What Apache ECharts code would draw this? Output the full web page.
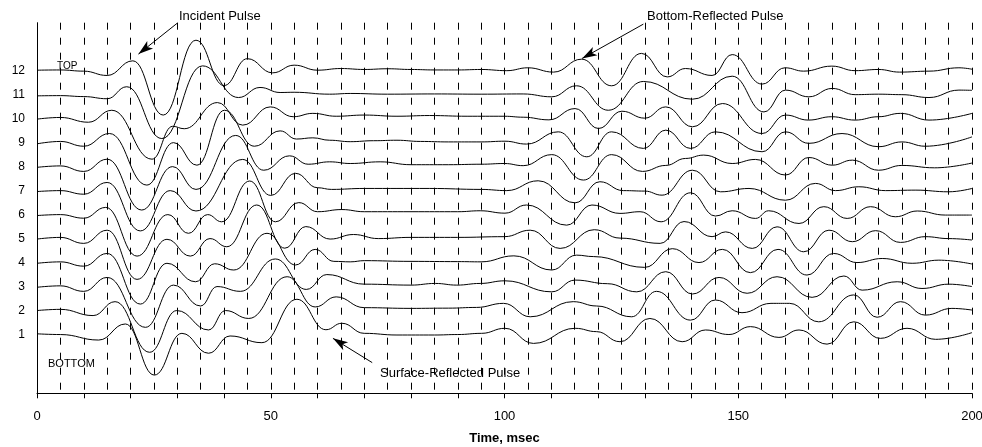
<!DOCTYPE html>
<html><head><meta charset="utf-8">
<script src="https://cdn.jsdelivr.net/npm/echarts@6/dist/echarts.min.js"></script>
<style>html,body{margin:0;padding:0;background:#fff}#c{width:982px;height:447px}</style>
</head><body><div id="c"></div>
<script>
// [time msec, amplitude relative to trace baseline]
const trace1 = [[0,0.03],[5,0],[13.2,-0.23],[18.9,0.44],[25.1,-1.69],[31,0.05],[36.7,-0.78],[41.3,-0.06],[48.1,-0.34],[55.6,1.47],[61.8,0.2],[65.2,0.47],[70,0.05],[77,-0.02],[85,-0.02],[90,0],[95.1,0.05],[100.1,0.26],[106.2,-0.37],[115.1,0.26],[119.7,0.12],[124.7,-0.3],[131.1,0.67],[138,-0.3],[143,0.19],[148,0],[152.6,0.33],[158.7,-0.12],[163,0.19],[169,-0.4],[174.7,0.53],[180.4,-0.16],[186.1,0.26],[192.2,-0.2],[200,0.08]];
const trace2 = [[0,0],[5,0.05],[12,-0.21],[16.7,0.37],[24.1,-1.74],[29.9,0.0],[36.7,-0.81],[40.3,0.0],[45.3,-0.33],[53.5,1.41],[59.5,0.15],[64,0.57],[70,0.12],[80,0.09],[88,0.1],[94,0.13],[99.8,0.3],[105.5,-0.26],[114.7,0.37],[119.7,0.19],[127.2,-0.26],[132.5,0.8],[139.8,-0.4],[145.1,0.44],[150.8,-0.09],[157,0.3],[161,0.3],[167.2,-0.47],[174.7,0.65],[179.7,-0.28],[184.7,0.37],[190,-0.19],[195.7,0.09],[200,0.02]];
const trace3 = [[0,-0.03],[5,0.03],[10,-0.2],[15,0.38],[23.2,-1.7],[29.2,0.06],[35,-0.81],[38.5,0.0],[43.5,-0.2],[51,1.15],[57.6,-0.12],[62,0.5],[70,0.1],[80,0.06],[85.2,0.13],[89.8,0.06],[94.8,0.13],[100.1,0.24],[110.1,-0.22],[115.1,0.27],[122,0.12],[128.3,-0.22],[134.5,0.62],[140.2,-0.31],[145.9,0.38],[151.9,-0.28],[158.3,0.41],[165.8,-0.45],[172.6,0.44],[176.5,-0.15],[184,0.2],[189.3,-0.08],[195,0.1],[200,0]];
const trace4 = [[0,-0.03],[5,0.03],[10,-0.15],[15,0.38],[22.1,-1.73],[27.8,-0.03],[33.9,-0.8],[38,-0.05],[42.1,-0.31],[49.2,1.22],[55.3,-0.1],[59.5,0.55],[63.5,0.05],[67,0.03],[70,0.08],[80,0.05],[90,0.04],[95,0.03],[102,0.28],[110.1,-0.31],[115.4,0.31],[119,0.25],[130,-0.2],[135.9,0.58],[141.6,0],[146.6,0.55],[152.6,-0.42],[158.5,0.55],[164.7,-0.52],[170.4,0.38],[175.4,0],[180.8,0.17],[187.2,-0.03],[192.9,0.1],[200,-0.06]];
const trace5 = [[0,-0.02],[5,0.05],[10,-0.2],[15,0.35],[21.4,-1.7],[27.8,-0.03],[32.8,-0.73],[37,0.0],[40.6,-0.34],[47,1.4],[53,-0.4],[57.5,0.5],[62.7,-0.02],[67.7,0.17],[73,0],[80,0.05],[90,0.05],[100,0.08],[105.5,0.35],[111.9,-0.41],[119.2,0.37],[124.7,0.02],[133.3,-0.2],[138.4,0.71],[144.4,0.08],[147.3,0.28],[153,-0.41],[158.3,0.49],[164,-0.55],[169.4,0.35],[174.4,-0.13],[179.4,0.33],[184.7,-0.16],[190,0.08],[195,0.0],[200,-0.06]];
const trace6 = [[0,-0.04],[5,0.0],[10,-0.15],[14.7,0.3],[21.4,-1.73],[28,0.0],[32.4,-0.78],[36.5,0.0],[39.5,-0.3],[45.5,1.4],[51,-0.3],[56,0.5],[60,0.12],[65.2,0.21],[70,0.12],[80,0.12],[90,0.12],[94.8,0.16],[100.1,0.06],[104.7,0.4],[113.3,-0.44],[118.7,0.4],[124.7,0.05],[129,0.12],[133.5,-0.3],[139.8,0.91],[145.1,-0.06],[148.7,0.16],[153.7,-0.16],[156.5,0.16],[163,-0.37],[168.3,0.33],[173.3,-0.16],[178.3,0.33],[183.6,-0.09],[188.3,0.15],[194.3,-0.02],[200,-0.02]];
const trace7 = [[0,-0.04],[5,0.0],[10,-0.15],[15,0.34],[22.1,-1.68],[28.5,0.0],[34,-0.85],[44,1.3],[50,-0.2],[55.3,0.72],[60,0.12],[63,0.05],[70,0.09],[84,0.09],[95,0.05],[100.5,0],[107.2,0.41],[115.1,-0.51],[120.4,0.37],[125.4,0],[130,-0.02],[133.7,-0.19],[140.2,0.85],[146.2,-0.05],[152.3,0.09],[160.1,-0.4],[166.5,0.3],[170.8,0],[175.8,0.16],[181.5,0],[188,0.02],[195,-0.05],[200,0.09]];
const trace8 = [[0,-0.03],[5,0.03],[10,-0.2],[15,0.31],[22.4,-1.81],[29,0.0],[34,-0.95],[42.5,1.3],[48.5,-0.15],[54,0.45],[58,0.1],[62.6,0.2],[67,0.13],[73.4,0.2],[80,0.08],[88,0.08],[95,0.1],[100,0.13],[104,0.04],[110.1,0.5],[116.9,-0.56],[122.9,0.5],[129.5,-0.2],[134.5,0.05],[138.7,0.34],[142.6,0.48],[148.7,0.13],[153.7,0.3],[160.1,-0.35],[165.1,0.38],[170.1,0.06],[174.4,0.27],[180,-0.15],[185,0.05],[192,-0.05],[200,0.15]];
const trace9 = [[0,-0.05],[5,0.05],[10,-0.15],[15.5,0.38],[23.5,-1.77],[29.2,0.0],[34.2,-0.94],[40.1,1.35],[46.5,-0.15],[52,0.49],[55.5,0.15],[59,0.2],[62.6,0.1],[67,0.04],[72,0.08],[77,0.1],[82,0.05],[88,0.03],[95,0.03],[100.1,0.06],[104.7,-0.06],[111.5,0.45],[117.6,-0.59],[122.9,0.45],[129.7,-0.24],[134.5,0.52],[139.8,-0.24],[145.1,0.45],[155.1,-0.38],[160.1,0.45],[165.1,-0.03],[172.2,0.38],[180,-0.17],[185,0.03],[190,-0.15],[200,0.24]];
const trace10 = [[0,-0.02],[5,0.05],[11,-0.15],[16,0.35],[24.6,-1.69],[29,-0.32],[31.5,-0.42],[38.6,0.67],[44,-0.27],[49.9,0.49],[54.8,0.08],[59,0.22],[64,0.1],[70,0.15],[77,0.1],[84,0.13],[92,0.1],[100,0.1],[104,0.06],[109.5,-0.05],[115.1,0.42],[120.1,-0.41],[125.1,0.31],[130,0.02],[134.5,0.49],[140.2,-0.34],[146.6,0.63],[155.1,-0.62],[160.1,0.15],[165,-0.06],[170,0.08],[175,-0.06],[180,0.08],[184.7,0.22],[190.8,-0.06],[200,0.22]];
const trace11 = [[0,-0.05],[5,-0.04],[10,-0.08],[15,-0.17],[19.2,0.33],[26.7,-1.83],[35.4,1.2],[43.1,-0.12],[47.7,0.3],[52,0.09],[55,0.1],[62.6,0.02],[67,0.05],[75,0.02],[85,0.03],[95,0.02],[104,0.03],[110.1,-0.09],[115.4,0.37],[122.2,-0.65],[129.7,0.55],[140.2,-0.19],[148.7,0.77],[155.5,-0.72],[160.1,0.19],[165.1,-0.09],[170.1,0.26],[175,0.0],[180,0.02],[185,0],[190.8,-0.12],[197.2,0.19],[200,0.18]];
const trace12 = [[0,0.02],[5,0.03],[10,-0.02],[15,-0.2],[20.5,0.41],[27,-1.85],[34,1.27],[40,-0.62],[45,0.5],[50.4,-0.09],[55,0.23],[60,0.02],[65,0.09],[70,0.05],[75,0.08],[80,0.05],[85,0.03],[90,0.03],[95,0.05],[100.5,0],[105,0.12],[110.5,-0.06],[116.5,0.48],[122.9,-0.63],[129.3,0.72],[134.8,-0.26],[138.7,0.09],[144.4,-0.2],[148.7,0.67],[155.1,-0.56],[160,0.12],[164,-0.02],[170,0.19],[175,0],[180,0.05],[184.5,-0.06],[190.8,-0.02],[197.2,0.12],[200,0.06]];

const traces = [trace1,trace2,trace3,trace4,trace5,trace6,trace7,trace8,trace9,trace10,trace11,trace12];
const traceLabels = [1,2,3,4,5,6,7,8,9,10,11,12];
const xLabelValues = [0,50,100,150,200];
const xTickValues = [0,10,20,30,40,50,60,70,80,90,100,110,120,130,140,150,160,170,180,190,200];
// arrows: [from, to] in data coordinates (time, trace level)
const arrowFrom = [[30.0,13.98],[129.7,13.94],[71.7,-0.17]];
const arrowTo   = [[21.7,12.69],[116.6,12.51],[63.3,0.84]];

const FONT = '"Liberation Sans", Arial, Helvetica, sans-serif';
const chart = echarts.init(document.getElementById('c'), null, {renderer:'canvas'});

const series = traces.map((tr, i) => ({
  type: 'line',
  xAxisIndex: 0,
  data: tr.map(p => [p[0], p[1] + traceLabels[i]]),
  showSymbol: false, symbol: 'none',
  smooth: 0.45, smoothMonotone: 'x',
  lineStyle: {color: '#000', width: 1},
  itemStyle: {color: '#000'},
  silent: true, animation: false, z: 3
}));
series[11].markLine = {
  silent: true, animation: false,
  symbol: ['none', 'arrow'], symbolSize: [7, 15],
  label: {show: false},
  lineStyle: {color: '#000', width: 1, type: 'solid'},
  itemStyle: {color: '#000'},
  emphasis: {disabled: true},
  data: arrowFrom.map((f, i) => [{coord: f}, {coord: arrowTo[i]}])
};

const annTexts = [
  {text: 'Incident Pulse', x: 179, y: 16, size: 13},
  {text: 'Bottom-Reflected Pulse', x: 647, y: 16, size: 13},
  {text: 'Surface-Reflected Pulse', x: 380, y: 373, size: 13},
  {text: 'TOP', x: 57, y: 66, size: 10},
  {text: 'BOTTOM', x: 48, y: 364, size: 11}
];

chart.setOption({
  backgroundColor: '#fff',
  animation: false,
  grid: {left: 37, right: 10, top: 22.7, bottom: 53.7, containLabel: false, outerBoundsMode: 'none'},
  xAxis: [{
    type: 'value', min: 0, max: 200, interval: 10,
    name: 'Time, msec', nameLocation: 'middle', nameGap: 39,
    nameTextStyle: {color: '#000', fontSize: 13, fontWeight: 'bold', fontFamily: FONT},
    axisLine: {show: true, onZero: false, lineStyle: {color: '#000', width: 1}},
    axisTick: {show: true, inside: false, length: 5, customValues: xTickValues, lineStyle: {color: '#000'}},
    axisLabel: {show: true, customValues: xLabelValues, margin: 17, color: '#000', fontSize: 13, fontFamily: FONT},
    splitLine: {show: false}
  }, {
    type: 'value', min: 0, max: 200, interval: 10, position: 'bottom',
    axisLine: {show: false},
    axisTick: {show: true, inside: true, length: 4, customValues: xTickValues, lineStyle: {color: '#000'}},
    axisLabel: {show: false}, splitLine: {show: false}
  }, {
    type: 'value', min: 0, max: 200, interval: 5, position: 'bottom',
    axisLine: {show: false}, axisTick: {show: false}, axisLabel: {show: false},
    splitLine: {show: true, showMinLine: false, lineStyle: {color: '#000', width: 1, type: [7, 8]}}
  }],
  yAxis: {
    type: 'value', min: -1.45, max: 14,
    axisLine: {show: true, onZero: false, lineStyle: {color: '#000', width: 1}},
    axisTick: {show: false},
    axisLabel: {show: true, customValues: traceLabels, margin: 12, color: '#000', fontSize: 12, fontFamily: FONT, padding: [6, 0, 0, 0]},
    splitLine: {show: false}
  },
  series: series,
  graphic: annTexts.map(a => ({
    type: 'text', silent: true, z: 10,
    style: {x: a.x, y: a.y, text: a.text, fill: '#000', font: a.size + 'px ' + FONT, textVerticalAlign: 'middle', verticalAlign: 'middle'}
  }))
});
</script></body></html>
